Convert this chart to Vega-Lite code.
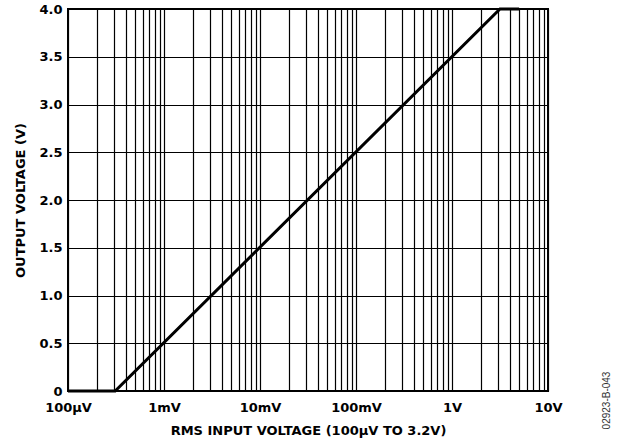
{
  "$schema": "https://vega.github.io/schema/vega-lite/v6.json",
  "width": 480,
  "height": 382,
  "autosize": {"type": "none"},
  "padding": {"left": 68, "top": 9, "right": 69, "bottom": 53},
  "background": "#ffffff",
  "config": {
    "view": {"stroke": "#000000", "strokeWidth": 2},
    "font": "DejaVu Sans",
    "axis": {
      "labelFont": "DejaVu Sans",
      "labelFontWeight": "bold",
      "labelFontSize": 13,
      "labelColor": "#000000",
      "titleFont": "DejaVu Sans",
      "titleFontWeight": "bold",
      "titleFontSize": 13,
      "titleColor": "#000000",
      "gridColor": "#000000",
      "gridWidth": 1.2,
      "gridOpacity": 1,
      "domain": false,
      "ticks": false,
      "tickSize": 0
    }
  },
  "data": {
    "values": [
      {"vin": 0.0001, "vout": 0},
      {"vin": 0.00031, "vout": 0},
      {"vin": 3.16, "vout": 4},
      {"vin": 5, "vout": 4}
    ]
  },
  "layer": [
    {
      "mark": {"type": "line", "color": "#000000", "strokeWidth": 3, "clip": false},
      "encoding": {
        "x": {
          "field": "vin",
          "type": "quantitative",
          "scale": {"type": "log", "domain": [0.0001, 10], "nice": false},
          "axis": {
            "title": "RMS INPUT VOLTAGE (100µV TO 3.2V)",
            "grid": true,
            "values": [0.0001, 0.0002, 0.0003, 0.0004, 0.0005, 0.0006, 0.0007, 0.0008, 0.0009,
                       0.001, 0.002, 0.003, 0.004, 0.005, 0.006, 0.007, 0.008, 0.009,
                       0.01, 0.02, 0.03, 0.04, 0.05, 0.06, 0.07, 0.08, 0.09,
                       0.1, 0.2, 0.3, 0.4, 0.5, 0.6, 0.7, 0.8, 0.9,
                       1, 2, 3, 4, 5, 6, 7, 8, 9, 10],
            "labelExpr": "datum.value == 0.0001 ? '100µV' : datum.value == 0.001 ? '1mV' : datum.value == 0.01 ? '10mV' : datum.value == 0.1 ? '100mV' : datum.value == 1 ? '1V' : datum.value == 10 ? '10V' : ''",
            "labelOverlap": false,
            "labelBound": false,
            "labelFlush": false,
            "labelPadding": 10,
            "titleX": 240,
            "titleY": 39,
            "titleAlign": "center",
            "titleBaseline": "middle",
            "titleAnchor": null
          }
        },
        "y": {
          "field": "vout",
          "type": "quantitative",
          "scale": {"domain": [0, 4], "nice": false},
          "axis": {
            "title": "OUTPUT VOLTAGE (V)",
            "grid": true,
            "values": [0, 0.5, 1, 1.5, 2, 2.5, 3, 3.5, 4],
            "labelExpr": "datum.value == 0 ? '0' : format(datum.value, '.1f')",
            "labelPadding": 6,
            "labelOverlap": false,
            "labelFlush": false,
            "titleX": -48,
            "titleY": 191,
            "titleAngle": 270,
            "titleAlign": "center",
            "titleBaseline": "middle"
          }
        }
      }
    },
    {
      "mark": {"type": "line", "opacity": 0, "strokeOpacity": 0},
      "encoding": {
        "x": {"field": "vin", "type": "quantitative"},
        "y": {
          "field": "vout",
          "type": "quantitative",
          "scale": {"domain": [0, 4], "nice": false},
          "axis": {
            "orient": "right",
            "title": "02923-B-043",
            "grid": false,
            "labels": false,
            "titleFont": "Liberation Sans",
            "titleFontWeight": "normal",
            "titleFontSize": 10,
            "titleColor": "#333333",
            "titleX": 58,
            "titleY": 391,
            "titleAngle": 270,
            "titleAlign": "center",
            "titleBaseline": "middle"
          }
        }
      }
    }
  ],
  "resolve": {"scale": {"y": "independent"}, "axis": {"y": "independent"}}
}
